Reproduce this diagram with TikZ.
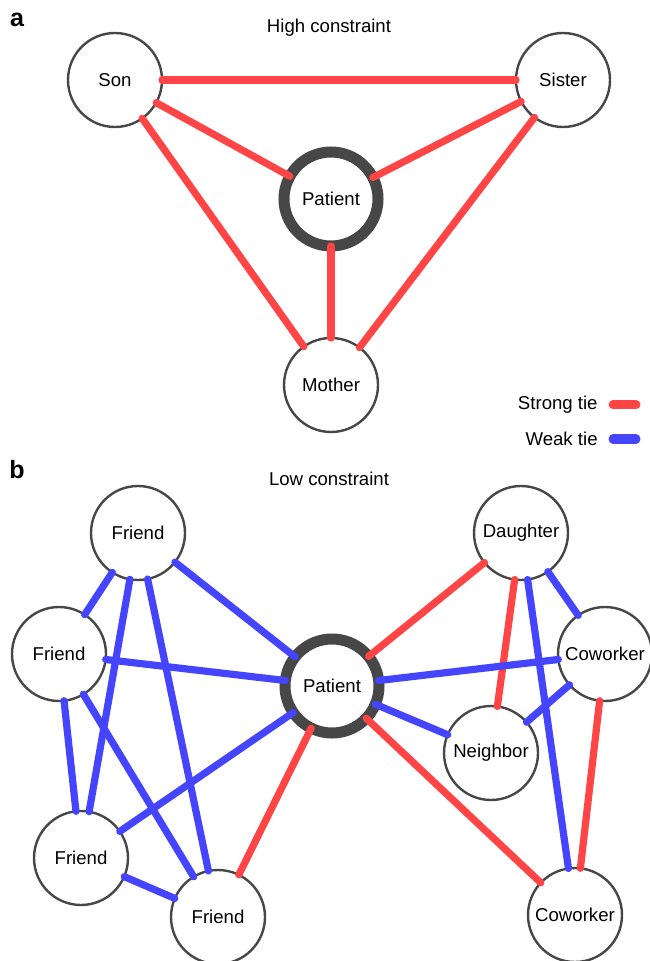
\documentclass[tikz,border=0pt]{standalone}
\usepackage{fontspec}
\setmainfont{Liberation Sans}
\usetikzlibrary{positioning}
\definecolor{rojoLazo}{HTML}{FF4545}
\definecolor{azulLazo}{HTML}{4545FF}
\definecolor{grisNodo}{HTML}{474747}
\colorlet{colFuerte}{rojoLazo}
\colorlet{colDebil}{azulLazo}
\colorlet{colBorde}{grisNodo}
\tikzset{
  nodoBase/.style={
    circle, draw=colBorde, line width=1.2pt, fill=white,
    minimum size=47pt, inner sep=0pt, outer sep=0pt,
    font=\fontsize{9.3}{11}\selectfont
  },
  nodoPaciente/.style={nodoBase, line width=5.5pt},
  lazoFuerte/.style={line width=3.6pt, line cap=round, colFuerte},
  lazoDebil/.style={line width=3.6pt, line cap=round, colDebil},
  titulo/.style={font=\fontsize{9.3}{11}\selectfont, inner sep=0pt},
  etiquetaPanel/.style={font=\bfseries\fontsize{12.5}{14}\selectfont, inner sep=0pt},
  muestra/.style={line width=4.5pt, line cap=round},
}

\begin{document}
\begin{tikzpicture}[x=0.5pt, y=-0.5pt]
  \useasboundingbox (0,0) rectangle (649,961);

  % panel a
  \node[etiquetaPanel] (etiqA) at (17,20) {a};
  \node[titulo] (tituloA) at (329,28) {High constraint};
  \node[nodoBase] (hijo) at (115,80) {Son};
  \node[nodoBase] (hermana) at (563,80) {Sister};
  \node[nodoPaciente] (pacienteA) at (331,199) {Patient};
  \node[nodoBase] (madre) at (331,385) {Mother};

  \draw[lazoFuerte] (hijo) -- (hermana);
  \draw[lazoFuerte] (hijo) -- (pacienteA);
  \draw[lazoFuerte] (hermana) -- (pacienteA);
  \draw[lazoFuerte] (hijo) -- (madre);
  \draw[lazoFuerte] (hermana) -- (madre);
  \draw[lazoFuerte] (pacienteA) -- (madre);

  % leyenda
  \node[titulo, anchor=east] (fuerteTxt) at (598,405) {Strong tie};
  \node[titulo, anchor=east] (debilTxt) at (598,439) {Weak tie};
  \draw[muestra, colFuerte] ([xshift=7.5pt]fuerteTxt.east) -- ++(23,0);
  \draw[muestra, colDebil] ([xshift=7.5pt]debilTxt.east) -- ++(23,0);

  % panel b
  \node[etiquetaPanel] (etiqB) at (17,470) {b};
  \node[titulo] (tituloB) at (329,479) {Low constraint};
  \node[nodoBase] (amigoA) at (138,533) {Friend};
  \node[nodoBase] (amigoB) at (59,654) {Friend};
  \node[nodoBase] (amigoC) at (81,858) {Friend};
  \node[nodoBase] (amigoD) at (218,917) {Friend};
  \node[nodoPaciente] (pacienteB) at (332,686) {Patient};
  \node[nodoBase] (hija) at (521,533) {Daughter};
  \node[nodoBase] (companeroA) at (605,654) {Coworker};
  \node[nodoBase] (vecino) at (491,753) {Neighbor};
  \node[nodoBase] (companeroB) at (575,915) {Coworker};

  \draw[lazoDebil] (amigoA) -- (amigoB);
  \draw[lazoDebil] (amigoA) -- (amigoC);
  \draw[lazoDebil] (amigoA) -- (amigoD);
  \draw[lazoDebil] (amigoA) -- (pacienteB);
  \draw[lazoDebil] (amigoB) -- (amigoC);
  \draw[lazoDebil] (amigoB) -- (amigoD);
  \draw[lazoDebil] (amigoB) -- (pacienteB);
  \draw[lazoDebil] (amigoC) -- (amigoD);
  \draw[lazoDebil] (amigoC) -- (pacienteB);
  \draw[lazoFuerte] (amigoD) -- (pacienteB);

  \draw[lazoFuerte] (hija) -- (pacienteB);
  \draw[lazoFuerte] (hija) -- (vecino);
  \draw[lazoDebil] (hija) -- (companeroB);
  \draw[lazoDebil] (hija) -- (companeroA);
  \draw[lazoDebil] (pacienteB) -- (companeroA);
  \draw[lazoDebil] (pacienteB) -- (vecino);
  \draw[lazoDebil] (companeroA) -- (vecino);
  \draw[lazoFuerte] (companeroA) -- (companeroB);
  \draw[lazoFuerte] (pacienteB) -- (companeroB);
\end{tikzpicture}
\end{document}
